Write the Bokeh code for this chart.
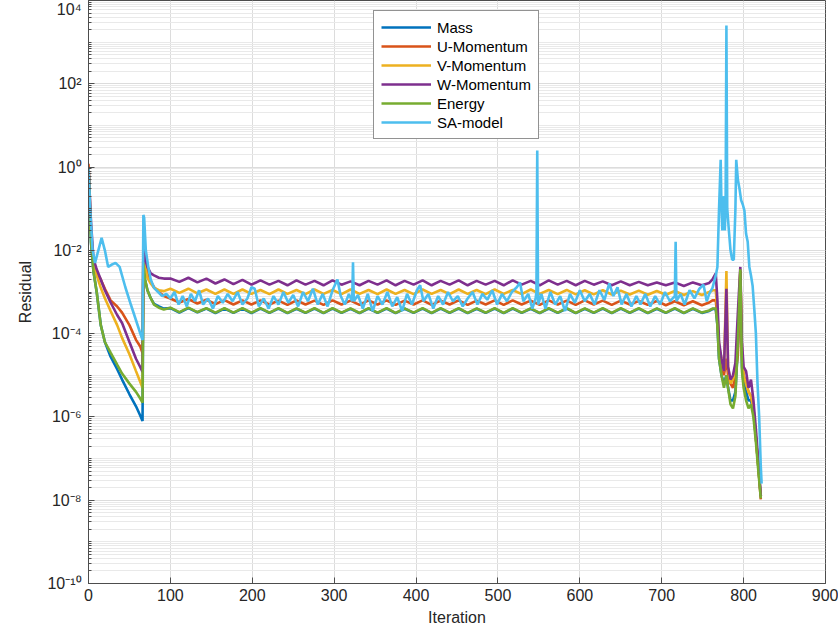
from bokeh.plotting import figure
from bokeh.models import FixedTicker, CustomJSTickFormatter, Range1d
from bokeh.embed import file_html
from bokeh.resources import INLINE

# ---------------- data ----------------
iterations = [0, 3, 6, 10, 15, 20, 27, 35, 41, 50,
              58, 63, 66, 67, 69, 72, 76, 80, 86, 92,
              100, 111, 122, 133, 144, 155, 166, 177, 188, 199,
              210, 221, 232, 243, 254, 265, 276, 287, 298, 309,
              320, 331, 342, 353, 364, 375, 386, 397, 408, 419,
              430, 441, 452, 463, 474, 485, 496, 507, 518, 529,
              540, 551, 562, 573, 584, 595, 606, 617, 628, 639,
              650, 661, 672, 683, 694, 705, 716, 727, 738, 749,
              758, 762, 766, 768, 770, 773, 776, 779, 781, 784,
              787, 790, 793, 796, 798, 800, 803, 806, 809, 812,
              815, 818, 821]

mass = [1.0, 1.6e-2, 3.2e-3, 1.0e-3, 1.6e-4, 6.3e-5, 2.8e-5, 1.4e-5, 7.9e-6, 3.5e-6,
        1.8e-6, 1.1e-6, 8.0e-7, 5.0e-3, 2.0e-3, 1.1e-3, 7.1e-4, 5.2e-4, 4.5e-4, 4.0e-4,
        4.1e-4, 3.2e-4, 4.1e-4, 3.25e-4, 4.0e-4, 3.1e-4, 4.0e-4, 3.15e-4, 4.0e-4, 3.1e-4,
        4.0e-4, 3.15e-4, 4.0e-4, 3.1e-4, 3.95e-4, 3.15e-4, 4.0e-4, 3.1e-4, 4.0e-4, 3.15e-4,
        3.95e-4, 3.1e-4, 4.0e-4, 3.15e-4, 4.0e-4, 3.1e-4, 3.95e-4, 3.15e-4, 4.0e-4, 3.1e-4,
        4.0e-4, 3.15e-4, 4.0e-4, 3.1e-4, 3.95e-4, 3.15e-4, 4.0e-4, 3.1e-4, 4.0e-4, 3.15e-4,
        3.95e-4, 3.1e-4, 4.0e-4, 3.15e-4, 4.0e-4, 3.1e-4, 3.95e-4, 3.15e-4, 4.0e-4, 3.1e-4,
        4.0e-4, 3.15e-4, 4.0e-4, 3.1e-4, 3.95e-4, 3.15e-4, 4.0e-4, 3.1e-4, 3.95e-4, 3.15e-4,
        3.5e-4, 3.9e-4, 3.9e-4, 1.6e-4, 2.5e-5, 1.0e-5, 6.3e-6, 1.0e-5, 5.0e-6, 2.5e-6,
        2.5e-6, 4.0e-6, 5.0e-5, 1.0e-3, 1.6e-5, 6.3e-6, 4.0e-6, 2.5e-6, 2.5e-6, 1.26e-6,
        3.2e-7, 6.3e-8, 1.26e-8]

u_momentum = [1.2, 3.0e-2, 5.0e-3, 3.0e-3, 2.0e-3, 1.2e-3, 6.3e-4, 4.5e-4, 3.2e-4, 1.6e-4,
              7.1e-5, 5.0e-5, 3.4e-5, 1.1e-2, 5.0e-3, 2.8e-3, 1.8e-3, 1.3e-3, 1.0e-3, 8.0e-4,
              7.0e-4, 5.6e-4, 6.8e-4, 5.3e-4, 6.5e-4, 5.1e-4, 6.4e-4, 5.0e-4, 6.3e-4, 5.0e-4,
              6.3e-4, 5.0e-4, 6.2e-4, 4.9e-4, 6.3e-4, 5.0e-4, 6.2e-4, 4.9e-4, 6.3e-4, 5.0e-4,
              6.2e-4, 4.9e-4, 6.3e-4, 5.0e-4, 6.3e-4, 4.9e-4, 6.2e-4, 5.0e-4, 6.3e-4, 4.9e-4,
              6.2e-4, 5.0e-4, 6.3e-4, 4.9e-4, 6.2e-4, 5.0e-4, 6.3e-4, 4.9e-4, 6.3e-4, 5.0e-4,
              6.2e-4, 4.9e-4, 6.3e-4, 5.0e-4, 6.2e-4, 4.9e-4, 6.3e-4, 5.0e-4, 6.2e-4, 4.9e-4,
              6.2e-4, 5.0e-4, 6.1e-4, 4.9e-4, 6.1e-4, 4.8e-4, 6.0e-4, 4.8e-4, 6.0e-4, 4.8e-4,
              5.6e-4, 6.3e-4, 6.3e-4, 2.5e-4, 4.0e-5, 2.0e-5, 1.0e-5, 2.5e-5, 1.0e-5, 6.3e-6,
              5.0e-6, 1.0e-5, 3.2e-5, 3.2e-3, 3.2e-5, 1.0e-5, 6.3e-6, 4.0e-6, 3.2e-6, 1.6e-6,
              3.2e-7, 6.3e-8, 1.05e-8]

v_momentum = [1.0, 3.2e-2, 5.0e-3, 2.5e-3, 1.26e-3, 7.1e-4, 3.5e-4, 1.6e-4, 7.9e-5, 3.2e-5,
              1.26e-5, 7.1e-6, 5.0e-6, 1.0e-2, 4.0e-3, 2.2e-3, 1.6e-3, 1.26e-3, 1.1e-3, 1.05e-3,
              1.2e-3, 9.5e-4, 1.2e-3, 9.3e-4, 1.15e-3, 9.0e-4, 1.15e-3, 9.0e-4, 1.15e-3, 9.0e-4,
              1.12e-3, 8.9e-4, 1.15e-3, 9.0e-4, 1.12e-3, 8.9e-4, 1.15e-3, 9.0e-4, 1.12e-3, 8.9e-4,
              1.15e-3, 9.0e-4, 1.12e-3, 8.9e-4, 1.15e-3, 9.0e-4, 1.12e-3, 8.9e-4, 1.15e-3, 9.0e-4,
              1.12e-3, 8.9e-4, 1.15e-3, 9.0e-4, 1.12e-3, 8.9e-4, 1.15e-3, 9.0e-4, 1.12e-3, 8.9e-4,
              1.15e-3, 9.0e-4, 1.12e-3, 8.9e-4, 1.12e-3, 8.8e-4, 1.1e-3, 8.8e-4, 1.1e-3, 8.7e-4,
              1.08e-3, 8.7e-4, 1.08e-3, 8.6e-4, 1.06e-3, 8.6e-4, 1.06e-3, 8.5e-4, 1.05e-3, 8.5e-4,
              1.0e-3, 1.1e-3, 1.1e-3, 3.2e-4, 5.0e-5, 2.5e-5, 1.26e-5, 3.2e-3, 1.6e-5, 6.3e-6,
              8.0e-6, 1.26e-5, 1.0e-4, 3.2e-3, 2.5e-5, 1.0e-5, 6.3e-6, 4.0e-6, 3.2e-6, 1.6e-6,
              3.2e-7, 6.3e-8, 1.26e-8]

w_momentum = [1.0, 5.0e-2, 6.3e-3, 3.5e-3, 2.0e-3, 1.1e-3, 5.6e-4, 2.8e-4, 1.8e-4, 6.3e-5,
              2.5e-5, 1.6e-5, 1.2e-5, 1.3e-2, 6.3e-3, 4.0e-3, 2.8e-3, 2.5e-3, 2.2e-3, 2.1e-3,
              2.1e-3, 1.75e-3, 2.2e-3, 1.7e-3, 2.1e-3, 1.6e-3, 2.0e-3, 1.55e-3, 1.95e-3, 1.5e-3,
              1.9e-3, 1.5e-3, 1.85e-3, 1.45e-3, 1.9e-3, 1.5e-3, 1.85e-3, 1.45e-3, 1.9e-3, 1.5e-3,
              1.8e-3, 1.45e-3, 1.85e-3, 1.5e-3, 1.9e-3, 1.45e-3, 1.85e-3, 1.5e-3, 1.9e-3, 1.45e-3,
              1.85e-3, 1.5e-3, 1.9e-3, 1.45e-3, 1.85e-3, 1.5e-3, 1.85e-3, 1.45e-3, 1.9e-3, 1.5e-3,
              1.85e-3, 1.45e-3, 1.9e-3, 1.5e-3, 1.85e-3, 1.45e-3, 1.85e-3, 1.5e-3, 1.8e-3, 1.45e-3,
              1.8e-3, 1.45e-3, 1.75e-3, 1.45e-3, 1.7e-3, 1.45e-3, 1.7e-3, 1.4e-3, 1.7e-3, 1.45e-3,
              1.65e-3, 2.0e-3, 2.8e-3, 6.3e-4, 6.3e-5, 2.5e-5, 1.26e-5, 1.2e-3, 1.6e-5, 7.9e-6,
              1.0e-5, 2.0e-5, 3.2e-4, 4.0e-3, 6.3e-5, 1.6e-5, 1.26e-5, 5.0e-6, 7.9e-6, 2.5e-6,
              5.0e-7, 7.9e-8, 1.26e-8]

energy = [1.0, 1.6e-2, 3.2e-3, 1.0e-3, 1.6e-4, 6.3e-5, 3.5e-5, 1.8e-5, 1.1e-5, 6.3e-6,
          4.0e-6, 2.8e-6, 2.2e-6, 5.0e-3, 2.0e-3, 1.1e-3, 7.1e-4, 5.0e-4, 4.2e-4, 3.8e-4,
          4.2e-4, 3.3e-4, 4.2e-4, 3.3e-4, 4.1e-4, 3.2e-4, 4.1e-4, 3.2e-4, 4.1e-4, 3.2e-4,
          4.1e-4, 3.2e-4, 4.1e-4, 3.15e-4, 4.05e-4, 3.2e-4, 4.1e-4, 3.15e-4, 4.1e-4, 3.2e-4,
          4.05e-4, 3.15e-4, 4.1e-4, 3.2e-4, 4.1e-4, 3.15e-4, 4.05e-4, 3.2e-4, 4.1e-4, 3.15e-4,
          4.1e-4, 3.2e-4, 4.1e-4, 3.15e-4, 4.05e-4, 3.2e-4, 4.1e-4, 3.15e-4, 4.1e-4, 3.2e-4,
          4.05e-4, 3.15e-4, 4.1e-4, 3.2e-4, 4.1e-4, 3.15e-4, 4.05e-4, 3.2e-4, 4.1e-4, 3.15e-4,
          4.1e-4, 3.2e-4, 4.1e-4, 3.15e-4, 4.05e-4, 3.2e-4, 4.1e-4, 3.15e-4, 4.05e-4, 3.2e-4,
          3.6e-4, 4.0e-4, 4.0e-4, 1.6e-4, 2.5e-5, 1.0e-5, 5.0e-6, 1.0e-5, 5.0e-6, 2.0e-6,
          1.6e-6, 3.2e-6, 6.3e-5, 3.5e-3, 1.26e-5, 5.0e-6, 2.5e-6, 1.6e-6, 2.0e-6, 1.0e-6,
          2.5e-7, 5.0e-8, 1.1e-8]

sa_iterations = [0, 2, 5, 8, 12, 16, 20, 24, 28, 33,
                 38, 45, 52, 58, 63, 66, 67, 68, 70, 73,
                 76, 80, 85, 90, 95, 100, 105, 110, 115, 120,
                 125, 130, 135, 140, 146, 152, 158, 164, 170, 176,
                 182, 188, 194, 199, 203, 208, 214, 220, 226, 232,
                 238, 244, 250, 256, 262, 268, 274, 280, 286, 292,
                 298, 304, 308, 313, 318, 322, 323, 324, 329, 335,
                 341, 347, 353, 359, 365, 371, 377, 383, 389, 395,
                 401, 405, 409, 415, 421, 427, 433, 439, 445, 451,
                 457, 463, 469, 475, 481, 487, 493, 499, 505, 511,
                 517, 523, 527, 531, 537, 542, 546, 547, 548, 549,
                 553, 558, 564, 570, 576, 582, 588, 594, 600, 606,
                 612, 618, 624, 630, 636, 641, 646, 651, 657, 663,
                 669, 674, 680, 686, 692, 698, 704, 710, 716, 717,
                 718, 723, 728, 734, 740, 746, 751, 755, 758, 762,
                 766, 768, 770, 772, 773, 774, 776, 777, 778, 779,
                 780, 782, 784, 786, 788, 790, 791, 793, 795, 797,
                 799, 801, 803, 805, 807, 809, 811, 813, 815, 817,
                 819, 821, 822]

sa_model = [1.0, 1.0e-1, 1.0e-2, 5.0e-3, 1.0e-2, 2.0e-2, 1.0e-2, 4.0e-3, 4.5e-3, 5.0e-3,
            4.0e-3, 1.3e-3, 4.8e-4, 2.1e-4, 1.05e-4, 7.0e-5, 7.1e-2, 6.0e-2, 1.0e-2, 4.0e-3,
            2.0e-3, 1.26e-3, 1.0e-3, 8.0e-4, 9.0e-4, 7.0e-4, 1.0e-3, 5.0e-4, 8.0e-4, 4.5e-4,
            9.0e-4, 6.0e-4, 1.1e-3, 5.0e-4, 7.0e-4, 4.0e-4, 8.0e-4, 5.5e-4, 9.0e-4, 6.0e-4,
            1.0e-3, 5.0e-4, 7.0e-4, 1.3e-3, 1.2e-3, 4.5e-4, 7.0e-4, 4.0e-4, 8.0e-4, 5.0e-4,
            1.0e-3, 5.5e-4, 8.5e-4, 4.5e-4, 1.0e-3, 6.0e-4, 1.2e-3, 5.0e-4, 9.0e-4, 4.5e-4,
            1.1e-3, 2.0e-3, 8.0e-4, 5.0e-4, 9.0e-4, 6.0e-4, 5.2e-3, 6.0e-4, 8.5e-4, 4.0e-4,
            9.0e-4, 3.5e-4, 8.0e-4, 5.0e-4, 1.0e-3, 4.5e-4, 7.5e-4, 3.5e-4, 9.0e-4, 5.0e-4,
            1.1e-3, 1.45e-3, 6.0e-4, 9.0e-4, 4.0e-4, 8.0e-4, 5.0e-4, 1.0e-3, 6.0e-4, 8.0e-4,
            4.5e-4, 7.0e-4, 1.0e-3, 5.0e-4, 9.0e-4, 6.5e-4, 1.1e-3, 5.0e-4, 9.0e-4, 6.0e-4,
            1.0e-3, 1.3e-3, 1.7e-3, 6.0e-4, 9.0e-4, 4.0e-4, 7.0e-4, 1.0e-3, 2.5, 5.0e-4,
            9.0e-4, 4.0e-4, 1.0e-3, 5.0e-4, 8.0e-4, 3.5e-4, 9.0e-4, 5.5e-4, 1.1e-3, 6.0e-4,
            9.0e-4, 5.0e-4, 1.1e-3, 6.5e-4, 1.6e-3, 8.0e-4, 1.3e-3, 5.0e-4, 9.0e-4, 4.5e-4,
            8.0e-4, 5.0e-4, 9.0e-4, 4.5e-4, 8.0e-4, 5.0e-4, 1.0e-3, 6.0e-4, 8.0e-4, 1.6e-2,
            6.0e-4, 9.0e-4, 5.0e-4, 1.1e-3, 7.0e-4, 1.2e-3, 1.5e-3, 6.0e-4, 9.0e-4, 1.26e-3,
            2.5e-3, 4.0e-3, 1.0e-1, 1.5, 1.0e-1, 3.0e-2, 2.0e-1, 3.0e-2, 1.0e-1, 2.5e3,
            1.0e-1, 3.0e-2, 1.0e-2, 6.0e-3, 6.0e-3, 1.0e-1, 1.5, 5.0e-1, 3.0e-1, 1.6e-1,
            1.26e-1, 9.0e-2, 2.5e-2, 1.6e-2, 4.0e-3, 2.5e-3, 1.4e-3, 4.0e-4, 1.0e-4, 6.3e-6,
            1.0e-6, 6.3e-8, 2.5e-8]

series_names = ["Mass", "U-Momentum", "V-Momentum", "W-Momentum", "Energy", "SA-model"]
series_colors = ["#0072BD", "#D95319", "#EDB120", "#7E2F8E", "#77AC30", "#4DBEEE"]

x_ticks = [0, 100, 200, 300, 400, 500, 600, 700, 800, 900]
y_ticks = [1e-10, 1e-8, 1e-6, 1e-4, 1e-2, 1e0, 1e2, 1e4]
y_minor = [k * 10.0 ** n for n in range(-10, 4) for k in range(1, 10)] + [1e4]

FONT = "Liberation Sans"
TXT = "#262626"

p = figure(width=838, height=631, y_axis_type="log",
           x_range=Range1d(0, 900), y_range=Range1d(1e-10, 1e4),
           output_backend="svg", toolbar_location=None,
           min_border_left=88, min_border_right=13, min_border_top=0,
           min_border_bottom=48)

p.background_fill_color = "white"
p.border_fill_color = "white"
p.outline_line_color = "#4d4d4d"
p.outline_line_width = 1

series = [(iterations, mass), (iterations, u_momentum), (iterations, v_momentum),
          (iterations, w_momentum), (iterations, energy), (sa_iterations, sa_model)]
for (xs, ys), name, col in zip(series, series_names, series_colors):
    p.line(xs, ys, line_color=col, line_width=2.6, legend_label=name)

# axes
p.xaxis.ticker = FixedTicker(ticks=x_ticks)
p.yaxis.ticker = FixedTicker(ticks=y_ticks, minor_ticks=y_minor)
p.yaxis.formatter = CustomJSTickFormatter(code="""
const e = Math.round(Math.log10(tick));
const sup = {'-':'\u207b','0':'\u2070','1':'\u00b9','2':'\u00b2','3':'\u00b3','4':'\u2074',
             '5':'\u2075','6':'\u2076','7':'\u2077','8':'\u2078','9':'\u2079'};
return '10' + String(e).split('').map(c => sup[c]).join('');
""")
for ax in (p.xaxis[0], p.yaxis[0]):
    ax.axis_line_color = "#4d4d4d"
    ax.major_tick_line_color = "#4d4d4d"
    ax.major_tick_in = 6
    ax.major_tick_out = 0
    ax.minor_tick_in = 3
    ax.minor_tick_out = 0
    ax.minor_tick_line_color = "#4d4d4d"
    ax.major_label_text_font = FONT
    ax.major_label_text_font_size = "16px"
    ax.major_label_text_color = TXT
    ax.axis_label_text_font = FONT
    ax.axis_label_text_font_size = "16px"
    ax.axis_label_text_font_style = "normal"
    ax.axis_label_text_color = TXT
p.xaxis.minor_tick_line_color = None
p.xaxis.major_label_standoff = 5
p.xaxis.axis_label_standoff = 5
p.yaxis.major_label_standoff = 7
p.yaxis.axis_label_standoff = 10
p.xaxis.axis_label = "Iteration"
p.yaxis.axis_label = "Residual"

# grids
p.xgrid.grid_line_color = "#dcdcdc"
p.ygrid.grid_line_color = "#dcdcdc"
p.ygrid.minor_grid_line_color = "#e9e9e9"

# legend
lg = p.legend[0]
lg.location = (285, 444)
lg.margin = 0
lg.padding = 7
lg.spacing = 1
lg.glyph_width = 50
lg.glyph_height = 18
lg.label_height = 18
lg.label_standoff = 6
lg.label_text_font = FONT
lg.label_text_font_size = "15px"
lg.label_text_color = "#000000"
lg.border_line_color = "#262626"
lg.border_line_width = 1
lg.background_fill_color = "white"
lg.background_fill_alpha = 1.0

open("out.html", "w").write(file_html(p, INLINE))
